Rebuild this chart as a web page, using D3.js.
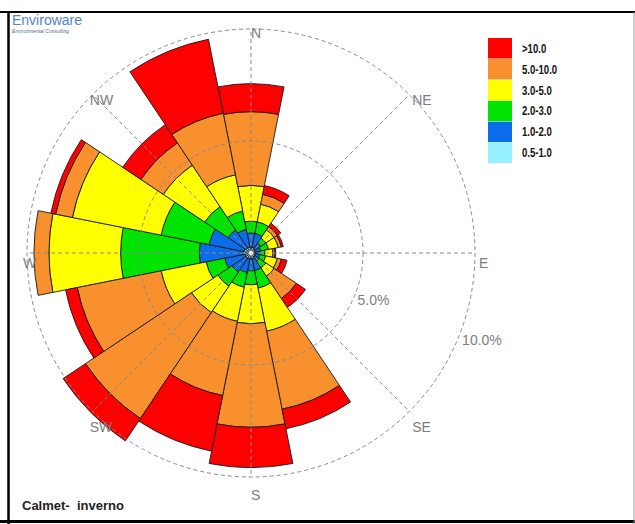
<!DOCTYPE html>
<html>
<head>
<meta charset="utf-8">
<script src="https://cdn.jsdelivr.net/npm/d3@7"></script>
<style>
  html, body { margin: 0; padding: 0; background: #fff; }
  svg { display: block; font-family: Arial, "Liberation Sans", sans-serif; }
</style>
</head>
<body>
<svg id="chart" width="635" height="524"></svg>
<script>
// ---------------- DATA ----------------
const directions = ["N","NNE","NE","ENE","E","ESE","SE","SSE","S","SSW","SW","WSW","W","WNW","NW","NNW"];
const speedClasses = ["0.5-1.0","1.0-2.0","2.0-3.0","3.0-5.0","5.0-10.0",">10.0"];
const classColors = ["#96F0FF","#0A6EEB","#00E400","#FFFF00","#F7902D","#FF0000"];

// frequency (%) per direction for each speed class
const f05_10  = [0.27,0.27,0.22,0.18,0.18,0.18,0.22,0.27,0.27,0.27,0.27,0.27,0.36,0.31,0.27,0.27];
const f10_20  = [0.62,0.62,0.31,0.26,0.18,0.22,0.22,0.53,0.53,0.62,0.75,0.93,1.95,1.60,0.97,0.80];
const f20_30  = [0.53,0.53,0.27,0.36,0.26,0.27,0.36,0.80,0.62,0.67,0.76,0.84,3.51,2.18,1.25,0.84];
const f30_50  = [1.60,0.80,0.44,0.44,0.36,0.53,0.44,1.96,1.74,1.55,1.42,2.05,3.20,4.04,2.22,1.65];
const f50_100 = [3.29,0.45,0.18,0.14,0.09,0.18,1.20,3.55,4.62,3.38,5.69,3.82,0.67,0.76,1.20,2.80];
const fgt100  = [1.25,0.40,0.18,0.09,0.04,0.26,0.49,0.89,1.80,2.53,1.20,0.53,0.00,0.22,0.98,3.37];

const compassLabels = ["N","NE","E","SE","S","SW","W","NW"];
const ringValues = [5, 10];
const ringLabels = ["5.0%","10.0%"];
const titleText = "Calmet-  inverno";

// ---------------- LAYOUT ----------------
const svg = d3.select("#chart");
const cx = 251, cy = 253, R = 224;

const series = [f05_10, f10_20, f20_30, f30_50, f50_100, fgt100];
const rows = directions.map((d, i) => {
  const o = { dir: d };
  speedClasses.forEach((k, j) => o[k] = series[j][i]);
  return o;
});
const stacked = d3.stack().keys(speedClasses)(rows);

const r = d3.scaleLinear().domain([0, 10]).range([0, R]);
const angle = d3.scaleBand().domain(directions).range([0, 2 * Math.PI]).paddingInner(0).paddingOuter(0);
const half = angle.bandwidth() / 2;
const color = d3.scaleOrdinal().domain(speedClasses).range(classColors);

// frame
svg.append("rect").attr("x", 0).attr("y", 0).attr("width", 635).attr("height", 524).attr("fill", "#fff");

const g = svg.append("g").attr("transform", `translate(${cx},${cy})`);

const arc = d3.arc()
  .innerRadius(d => r(d[0]))
  .outerRadius(d => r(d[1]))
  .startAngle(d => angle(d.data.dir) - half)
  .endAngle(d => angle(d.data.dir) + half);

g.selectAll("g.layer")
  .data(stacked)
  .join("g")
  .attr("class", "layer")
  .attr("fill", d => color(d.key))
  .selectAll("path")
  .data(d => d.filter(p => p[1] - p[0] > 0))
  .join("path")
  .attr("d", arc)
  .attr("stroke", "#1a1a1a")
  .attr("stroke-width", 0.9)
  .attr("stroke-linejoin", "round");

// grid (drawn on top)
const grid = g.append("g").attr("fill", "none").attr("stroke", "#8a8a8a")
  .attr("stroke-width", 1).attr("stroke-dasharray", "4,3");
grid.selectAll("circle").data(ringValues).join("circle").attr("r", d => r(d));
const labelAngle = d3.scaleBand().domain(compassLabels).range([0, 2 * Math.PI]);
grid.selectAll("line").data(compassLabels).join("line")
  .attr("x1", 0).attr("y1", 0)
  .attr("x2", d => r(10) * Math.sin(labelAngle(d)))
  .attr("y2", d => -r(10) * Math.cos(labelAngle(d)));

// center marker
g.append("circle").attr("r", 2.5).attr("fill", "#e6e6e6").attr("stroke", "#999").attr("stroke-width", 0.6);

// compass labels
g.selectAll("text.dir").data(compassLabels).join("text")
  .attr("class", "dir")
  .attr("x", d => (R + 4) * Math.sin(labelAngle(d)))
  .attr("y", d => {
    const a = labelAngle(d), c = Math.cos(a);
    return -(c > 0 ? R + 2 : R + 12) * c + 4 * (1 - Math.abs(c)) + 10.5;
  })
  .attr("font-size", 14).attr("fill", "#7d7d7d")
  .text(d => d);

// ring labels
const ringA = 111 * Math.PI / 180;
g.selectAll("text.ring").data(ringValues).join("text")
  .attr("class", "ring")
  .attr("x", d => r(d) * Math.sin(ringA) + 2)
  .attr("y", d => -r(d) * Math.cos(ringA) + 12)
  .attr("font-size", 14).attr("fill", "#7d7d7d")
  .text((d, i) => ringLabels[i]);

// legend
const legendY = d3.scaleBand().domain(speedClasses.slice().reverse()).range([38, 163]).paddingInner(0.02);
const legend = svg.append("g");
legend.selectAll("rect").data(speedClasses).join("rect")
  .attr("x", 488).attr("y", d => legendY(d))
  .attr("width", 24).attr("height", legendY.bandwidth())
  .attr("fill", d => color(d));
legend.selectAll("text").data(speedClasses).join("text")
  .attr("transform", d => `translate(522,${legendY(d) + legendY.bandwidth() / 2 + 4.5}) scale(0.8,1)`)
  .attr("font-size", 12).attr("font-weight", "bold").attr("fill", "#111")
  .text(d => d);

// logo
svg.append("text").attr("x", 12).attr("y", 25).attr("font-size", 14)
  .attr("fill", "#4f86c4").text("Enviroware");
svg.append("text").attr("x", 12).attr("y", 33).attr("font-size", 5)
  .attr("font-style", "italic").attr("fill", "#4a6d8f").text("Environmental Consulting");

// title
svg.append("text").attr("x", 22).attr("y", 510).attr("font-size", 13)
  .attr("font-weight", "bold").attr("fill", "#222")
  .attr("xml:space", "preserve").style("white-space", "pre")
  .text(titleText);

// frame lines
svg.append("line").attr("x1", 0).attr("x2", 635).attr("y1", 12).attr("y2", 12).attr("stroke", "#000").attr("stroke-width", 2);
svg.append("line").attr("x1", 8.5).attr("x2", 8.5).attr("y1", 12).attr("y2", 524).attr("stroke", "#000").attr("stroke-width", 2.5);
svg.append("line").attr("x1", 0).attr("x2", 635).attr("y1", 521.5).attr("y2", 521.5).attr("stroke", "#000").attr("stroke-width", 3);
svg.append("line").attr("x1", 634).attr("x2", 634).attr("y1", 12).attr("y2", 524).attr("stroke", "#999").attr("stroke-width", 1);
</script>
</body>
</html>
